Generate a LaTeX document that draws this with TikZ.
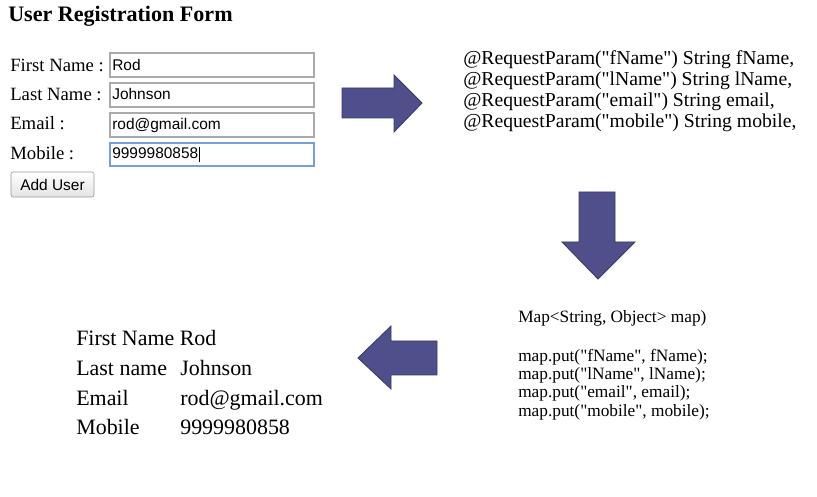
\documentclass[tikz,border=0pt]{standalone}
\usepackage{fontspec}
\setmainfont{Liberation Serif}[Ligatures=TeXOff]
\newfontfamily\arial{Liberation Sans}
\definecolor{arrowblue}{RGB}{79,79,140}
\definecolor{arrowedge}{RGB}{58,58,105}
\definecolor{focusblue}{RGB}{118,158,215}
\definecolor{boxgray}{RGB}{170,170,170}

\tikzset{
  field/.style={draw=boxgray, fill=white, line width=0.8pt},
  fieldtext/.style={anchor=base west, inner sep=0pt, font=\arial\fontsize{11}{13}\selectfont},
  formlabel/.style={anchor=base west, inner sep=0pt, font=\fontsize{13.3}{16}\selectfont},
  codeline/.style={anchor=base west, inner sep=0pt, font=\fontsize{14}{16}\selectfont},
  mapline/.style={anchor=base west, inner sep=0pt, font=\fontsize{12.3}{14}\selectfont},
  result/.style={anchor=base west, inner sep=0pt, font=\fontsize{15.6}{18}\selectfont},
  bigarrow/.style={fill=arrowblue, draw=arrowedge, line width=0.6pt, line join=miter}
}

\begin{document}
\begin{tikzpicture}[x=0.025cm, y=-0.025cm]
\useasboundingbox (0,0) rectangle (817,497);

% form
\node[anchor=base west, inner sep=0pt, font=\bfseries\fontsize{15.7}{19}\selectfont] (title) at (8,22) {User Registration Form};

\node[formlabel] (lfirst) at (10,72) {First Name :};
\node[formlabel] (llast) at (10,101) {Last Name :};
\node[formlabel] (lemail) at (10,130) {Email :};
\node[formlabel] (lmobile) at (10,160) {Mobile :};

\draw[field] (110,53) rectangle (314,77);
\draw[field] (110,83) rectangle (314,107);
\draw[field] (110,113) rectangle (314,137);
\draw[field, draw=focusblue, line width=1.2pt] (110,143) rectangle (314,166);

\node[fieldtext] (vfirst) at (112,71) {Rod};
\node[fieldtext] (vlast) at (112,100) {Johnson};
\node[fieldtext] (vemail) at (112,130) {rod@gmail.com};
\node[fieldtext] (vmobile) at (112,159) {9999980858};
\draw[line width=0.7pt] (vmobile.north east) ++(1,-1) coordinate (caret) -- ++(0,15);

\node[draw=gray!80, rounded corners=1.5pt, top color=white, bottom color=gray!22,
      minimum width=2.075cm, minimum height=0.625cm, inner sep=0pt,
      font=\arial\fontsize{11}{13}\selectfont] (adduser) at (52.5,184.5) {Add User};

% arrows
\draw[bigarrow] (342,88) -- (394,88) -- (394,75) -- (422,103) -- (394,132) -- (394,118) -- (342,118) -- cycle;
\draw[bigarrow] (579,192) -- (615,192) -- (615,242) -- (635,242) -- (598,279) -- (562,242) -- (579,242) -- cycle;
\draw[bigarrow] (437,341) -- (391,341) -- (391,326) -- (358,358) -- (391,389) -- (391,375) -- (437,375) -- cycle;

% request params
\node[codeline] (rp1) at (463,65) {@RequestParam("fName") String fName,};
\node[codeline] (rp2) at (463,86) {@RequestParam("lName") String lName,};
\node[codeline] (rp3) at (463,107) {@RequestParam("email") String email,};
\node[codeline] (rp4) at (463,128) {@RequestParam("mobile") String mobile,};

% map
\node[mapline] (map) at (518,323) {Map<String, Object> map)};
\node[mapline] (put1) at (518,362) {map.put("fName", fName);};
\node[mapline] (put2) at (518,380) {map.put("lName", lName);};
\node[mapline] (put3) at (518,398) {map.put("email", email);};
\node[mapline] (put4) at (518,417) {map.put("mobile", mobile);};

% result
\node[result] (r1) at (76,346) {First Name Rod};
\node[result] (r2) at (76,376) {Last name};
\node[result] (r3) at (76,406) {Email};
\node[result] (r4) at (76,435) {Mobile};
\node[result] (s2) at (180,376) {Johnson};
\node[result] (s3) at (180,406) {rod@gmail.com};
\node[result] (s4) at (180,435) {9999980858};
\end{tikzpicture}
\end{document}
